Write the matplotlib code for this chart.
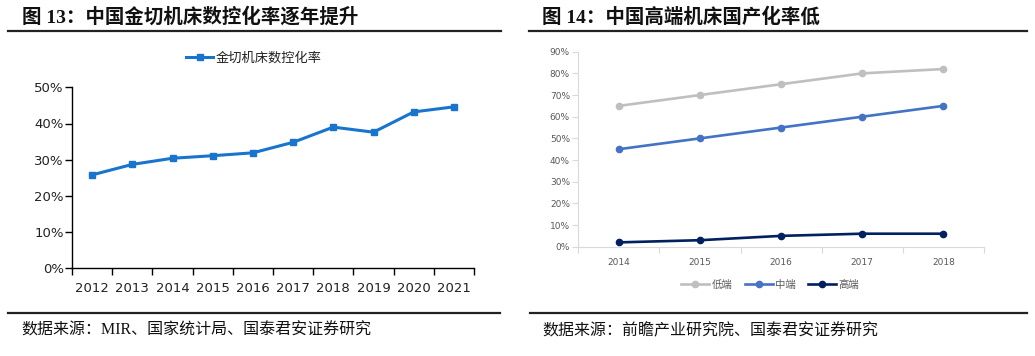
import matplotlib
matplotlib.use("Agg")
import matplotlib.pyplot as plt
from matplotlib.lines import Line2D
import numpy as np

plt.rcParams['font.family'] = ['DejaVu Sans', 'Noto Sans CJK SC']

# ---- data ----
years_left = ['2012', '2013', '2014', '2015', '2016', '2017', '2018', '2019', '2020', '2021']
nc_rate = [25.8, 28.7, 30.4, 31.1, 31.9, 34.8, 39.0, 37.6, 43.2, 44.6]

years_right = ['2014', '2015', '2016', '2017', '2018']
low_end = [65, 70, 75, 80, 82]
mid_end = [45, 50, 55, 60, 65]
high_end = [2, 3, 5, 6, 6]

title_left = '图 13：中国金切机床数控化率逐年提升'
title_right = '图 14：中国高端机床国产化率低'
source_left = '数据来源：MIR、国家统计局、国泰君安证券研究'
source_right = '数据来源：前瞻产业研究院、国泰君安证券研究'

W, H = 1035, 356
fig = plt.figure(figsize=(W / 100, H / 100), dpi=100)


def ax_px(x0, y_top, x1, y_bot):
    return fig.add_axes([x0 / W, 1 - y_bot / H, (x1 - x0) / W, (y_bot - y_top) / H])


def hline(x0, x1, y, lw=1.6):
    fig.add_artist(Line2D([x0 / W, x1 / W], [1 - y / H, 1 - y / H], color='#222222', lw=lw,
                          transform=fig.transFigure))


cjk = ['Noto Sans CJK SC', 'DejaVu Sans']
serif_cjk = ['Liberation Serif', 'Noto Sans CJK SC']

# ---- titles & rules ----
fig.text(22 / W, 1 - 17 / H, title_left, family=serif_cjk, fontsize=14, fontweight='bold',
         va='center', ha='left', color='#111111')
fig.text(542 / W, 1 - 17 / H, title_right, family=serif_cjk, fontsize=14, fontweight='bold',
         va='center', ha='left', color='#111111')
hline(8, 501, 30.5)
hline(529, 1027, 30.5)
hline(8, 500, 312.7)
hline(530, 1027, 312.7)
fig.text(21 / W, 1 - 331 / H, source_left, family=serif_cjk, fontsize=11.5, va='center', ha='left',
         color='#111111')
fig.text(542 / W, 1 - 331 / H, source_right, family=serif_cjk, fontsize=11.5, va='center', ha='left',
         color='#111111')

# ---- left chart ----
ax1 = ax_px(72, 87.3, 474, 268.3)
x1 = np.arange(len(years_left))
blue = '#1874CD'
ax1.plot(x1, np.array(nc_rate) / 100, color=blue, lw=2.2, marker='s', ms=5,
         label='金切机床数控化率')
ax1.set_xlim(-0.5, len(years_left) - 0.5)
ax1.set_ylim(0, 0.5)
ax1.set_yticks(np.arange(0, 0.51, 0.1))
ax1.set_yticklabels([f'{int(round(v * 100))}%' for v in np.arange(0, 0.51, 0.1)])
ax1.set_xticks(np.arange(-0.5, len(years_left), 1.0))
ax1.set_xticklabels([])
ax1.set_xticks(x1, minor=True)
ax1.set_xticklabels(years_left, minor=True)
ax1.tick_params(axis='x', which='major', direction='out', length=5, width=1, color='black')
ax1.tick_params(axis='x', which='minor', length=0, pad=10, labelsize=9.5, labelcolor='#222222')
ax1.tick_params(axis='y', direction='out', length=5, width=1, labelsize=9.5, labelcolor='#222222', pad=1)
for s in ['top', 'right']:
    ax1.spines[s].set_visible(False)
for s in ['left', 'bottom']:
    ax1.spines[s].set_color('black')
    ax1.spines[s].set_linewidth(1)
leg1 = ax1.legend(loc='center', bbox_to_anchor=(254 / W, 1 - 58 / H), bbox_transform=fig.transFigure,
                  frameon=False, prop={'family': cjk, 'size': 9.5}, handlelength=2.0,
                  handletextpad=0.2, markerscale=0.9)
for t in leg1.get_texts():
    t.set_color('#222222')

# ---- right chart ----
ax2 = ax_px(578.3, 51.7, 984, 246.7)
x2 = np.arange(len(years_right))
series = [(low_end, '低端', '#BFBFBF'), (mid_end, '中端', '#4472C4'), (high_end, '高端', '#002060')]
for vals, name, col in series:
    ax2.plot(x2, np.array(vals) / 100, color=col, lw=1.9, marker='o', ms=4.5, label=name)
ax2.set_xlim(-0.5, len(years_right) - 0.5)
ax2.set_ylim(0, 0.9)
yt = np.arange(0, 0.91, 0.1)
ax2.set_yticks(yt)
ax2.set_yticklabels([f'{int(round(v * 100))}%' for v in yt])
ax2.set_xticks(np.arange(-0.5, len(years_right), 1.0))
ax2.set_xticklabels([])
ax2.set_xticks(x2, minor=True)
ax2.set_xticklabels(years_right, minor=True)
ax2.tick_params(axis='x', which='major', direction='out', length=4, width=0.8, color='#D9D9D9')
ax2.tick_params(axis='x', which='minor', length=0, pad=8, labelsize=6.5, labelcolor='#595959')
ax2.tick_params(axis='y', direction='out', length=4, width=0.8, color='#D9D9D9', labelsize=6.5,
                labelcolor='#595959', pad=2)
for s in ['top', 'right']:
    ax2.spines[s].set_visible(False)
for s in ['left', 'bottom']:
    ax2.spines[s].set_color('#D9D9D9')
    ax2.spines[s].set_linewidth(0.8)
leg2 = ax2.legend(loc='center', bbox_to_anchor=(770 / W, 1 - 285 / H), bbox_transform=fig.transFigure,
                  frameon=False, prop={'family': cjk, 'size': 7.5}, ncol=3, handlelength=2.7,
                  handletextpad=0.2, columnspacing=1.2)
for t in leg2.get_texts():
    t.set_color('#595959')

fig.savefig('out.png', dpi=100, facecolor='white')
